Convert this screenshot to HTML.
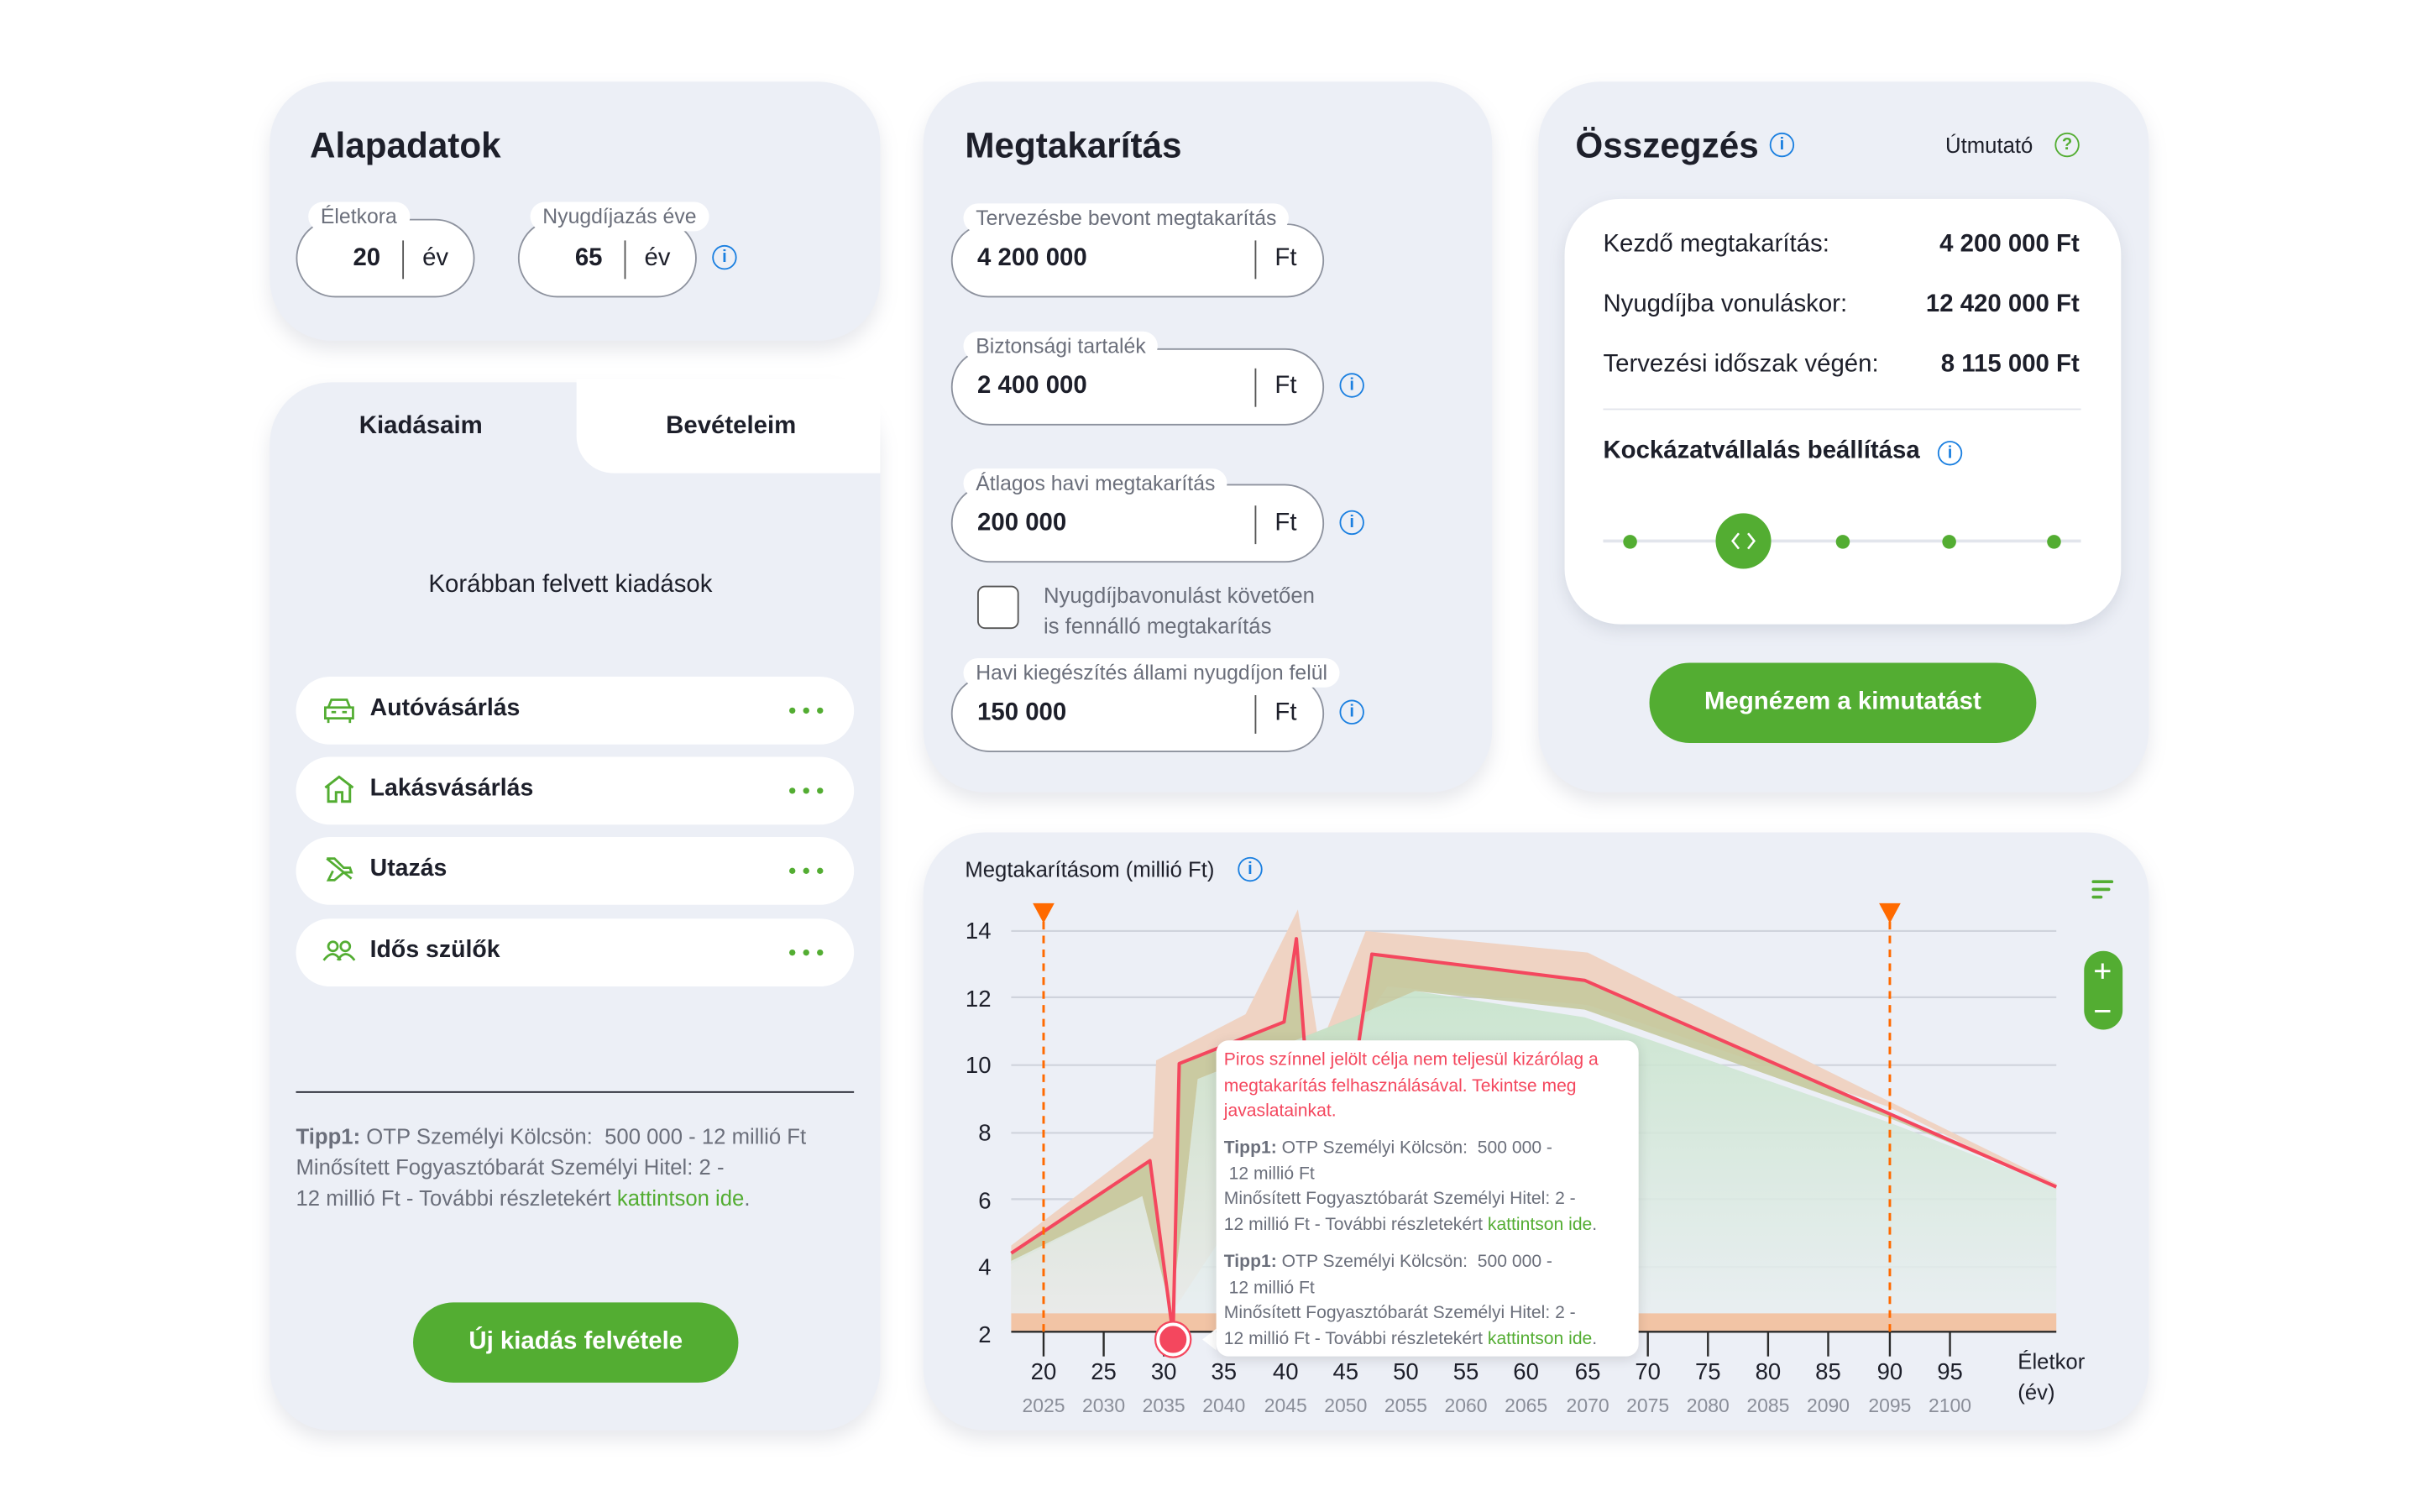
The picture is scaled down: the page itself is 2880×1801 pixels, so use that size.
<!DOCTYPE html>
<html><head><meta charset="utf-8">
<style>
html,body{margin:0;padding:0;background:#fff;width:2880px;height:1800px;overflow:hidden}
#w{position:absolute;left:0;top:0;width:1570px;height:981px;transform:scale(1.836);transform-origin:0 0;font-family:"Liberation Sans",sans-serif;color:#1d1f2a}
.card{position:absolute;background:#eceff6;border-radius:40px;box-shadow:0 6px 12px rgba(120,130,150,.18)}
.t{position:absolute;white-space:nowrap}
.h{font-weight:bold;font-size:23px}
.pill{position:absolute;background:#fff;border:1.3px solid #8d929e;border-radius:26px;box-sizing:border-box}
.lbl{position:absolute;background:#fff;border-radius:12px;padding:2px 8px;font-size:13.5px;color:#6b6f7b;white-space:nowrap}
.info{position:absolute;width:14px;height:14px;border:1.5px solid #1a7fe0;border-radius:50%;color:#1a7fe0;font-size:11px;font-weight:bold;text-align:center;line-height:14px;box-sizing:content-box}
.div{position:absolute;width:1.3px;background:#555}
.item{position:absolute;left:192px;width:362px;height:44px;background:#fff;border-radius:22px}
.item b{position:absolute;left:48px;top:12px;font-size:15.5px}
.dots{position:absolute;right:20px;top:20px;width:4px;height:4px;background:#53ad32;border-radius:50%;box-shadow:-9px 0 0 #53ad32,-18px 0 0 #53ad32}
.btn{position:absolute;background:#53ad32;color:#fff;font-weight:bold;border-radius:26px;text-align:center;font-size:16px}
.gray{color:#6b6f7b}
a{color:#53ad32}
</style></head><body><div id="w">

<!-- Alapadatok -->
<div class="card" style="left:175px;top:53px;width:396px;height:168px"></div>
<div class="t h" style="left:201px;top:81px">Alapadatok</div>
<div class="pill" style="left:192px;top:142px;width:116px;height:51px"></div>
<div class="lbl" style="left:200px;top:131px">Életkora</div>
<div class="t" style="left:229px;top:159px;font-weight:bold;font-size:16px">20</div>
<div class="div" style="left:261px;top:156px;height:25px"></div>
<div class="t" style="left:274px;top:159px;font-size:16px">év</div>
<div class="pill" style="left:336px;top:142px;width:116px;height:51px"></div>
<div class="lbl" style="left:344px;top:131px">Nyugdíjazás éve</div>
<div class="t" style="left:373px;top:159px;font-weight:bold;font-size:16px">65</div>
<div class="div" style="left:405px;top:156px;height:25px"></div>
<div class="t" style="left:418px;top:159px;font-size:16px">év</div>
<div class="info" style="left:462px;top:159px">i</div>

<!-- Kiadások -->
<div class="card" style="left:175px;top:248px;width:396px;height:680px"></div>
<div style="position:absolute;left:374px;top:246px;width:197px;height:61px;background:#fff;border-bottom-left-radius:24px"></div>
<div class="t" style="left:233px;top:268px;font-weight:bold;font-size:16px">Kiadásaim</div>
<div class="t" style="left:432px;top:268px;font-weight:bold;font-size:16px">Bevételeim</div>
<div class="t" style="left:278px;top:371px;font-size:16px">Korábban felvett kiadások</div>
<div class="item" style="top:439px"><svg style="position:absolute;left:17px;top:13px" width="22" height="18" viewBox="0 0 22 18" fill="none" stroke="#53ad32" stroke-width="1.5"><path d="M4 7 L6 2 H16 L18 7 M2 7 H20 V14 H2 Z M4 14 V17 M18 14 V17 M6 10 H9 M13 10 H16"/></svg><b>Autóvásárlás</b><span class="dots"></span></div>
<div class="item" style="top:491px"><svg style="position:absolute;left:17px;top:11px" width="22" height="20" viewBox="0 0 22 20" fill="none" stroke="#53ad32" stroke-width="1.6"><path d="M2 9 L11 2 L20 9 M4 8 V18 H9 V12 H13 V18 H18 V8"/></svg><b>Lakásvásárlás</b><span class="dots"></span></div>
<div class="item" style="top:543px"><svg style="position:absolute;left:17px;top:12px" width="22" height="18" viewBox="0 0 22 18" fill="none" stroke="#53ad32" stroke-width="1.5"><path d="M3 2 L19 15 M3 2 L8 2 L14 8 L18 8 L19 11 L14 11 L8 16 L4 16 L7 10"/></svg><b>Utazás</b><span class="dots"></span></div>
<div class="item" style="top:596px"><svg style="position:absolute;left:17px;top:13px" width="22" height="16" viewBox="0 0 22 16" fill="none" stroke="#53ad32" stroke-width="1.5"><circle cx="7" cy="5" r="3"/><circle cx="15" cy="5" r="3"/><path d="M1 14 Q7 6 12 14 M10 14 Q15 6 21 14"/></svg><b>Idős szülők</b><span class="dots"></span></div>
<div style="position:absolute;left:192px;top:708px;width:362px;height:1.3px;background:#1d1f2a"></div>
<div class="t gray" style="left:192px;top:727px;font-size:14px;line-height:20px">
<b>Tipp1:</b> OTP Személyi Kölcsön:&nbsp; 500 000 - 12 millió Ft<br>Minősített Fogyasztóbarát Személyi Hitel: 2 -<br>12 millió Ft - További részletekért <a>kattintson ide</a>.</div>
<div class="btn" style="left:268px;top:845px;width:211px;height:52px;line-height:52px">Új kiadás felvétele</div>

<!-- Megtakarítás -->
<div class="card" style="left:599px;top:53px;width:369px;height:461px"></div>
<div class="t h" style="left:626px;top:81px">Megtakarítás</div>
<div class="pill" style="left:617px;top:145px;width:242px;height:48px"></div>
<div class="lbl" style="left:625px;top:132px">Tervezésbe bevont megtakarítás</div>
<div class="t" style="left:634px;top:159px;font-weight:bold;font-size:16px">4 200 000</div>
<div class="div" style="left:814px;top:156px;height:25px"></div><div class="t" style="left:827px;top:159px;font-size:16px">Ft</div>
<div class="pill" style="left:617px;top:226px;width:242px;height:50px"></div>
<div class="lbl" style="left:625px;top:215px">Biztonsági tartalék</div>
<div class="t" style="left:634px;top:242px;font-weight:bold;font-size:16px">2 400 000</div>
<div class="div" style="left:814px;top:239px;height:25px"></div><div class="t" style="left:827px;top:242px;font-size:16px">Ft</div>
<div class="info" style="left:869px;top:242px">i</div>
<div class="pill" style="left:617px;top:314px;width:242px;height:51px"></div>
<div class="lbl" style="left:625px;top:304px">Átlagos havi megtakarítás</div>
<div class="t" style="left:634px;top:331px;font-weight:bold;font-size:16px">200 000</div>
<div class="div" style="left:814px;top:328px;height:25px"></div><div class="t" style="left:827px;top:331px;font-size:16px">Ft</div>
<div class="info" style="left:869px;top:331px">i</div>
<div style="position:absolute;left:634px;top:380px;width:25px;height:26px;border:1.3px solid #555;border-radius:5px;background:#fff"></div>
<div class="t gray" style="left:677px;top:376px;font-size:14px;line-height:20px">Nyugdíjbavonulást követően<br>is fennálló megtakarítás</div>
<div class="pill" style="left:617px;top:438px;width:242px;height:50px"></div>
<div class="lbl" style="left:625px;top:427px">Havi kiegészítés állami nyugdíjon felül</div>
<div class="t" style="left:634px;top:454px;font-weight:bold;font-size:16px">150 000</div>
<div class="div" style="left:814px;top:451px;height:25px"></div><div class="t" style="left:827px;top:454px;font-size:16px">Ft</div>
<div class="info" style="left:869px;top:454px">i</div>

<!-- Összegzés -->
<div class="card" style="left:998px;top:53px;width:396px;height:461px"></div>
<div class="t h" style="left:1022px;top:81px">Összegzés</div>
<div class="info" style="left:1148px;top:86px">i</div>
<div class="t" style="left:1262px;top:86px;font-size:14px">Útmutató</div>
<div class="info" style="left:1333px;top:86px;border-color:#53ad32;color:#53ad32">?</div>
<div style="position:absolute;left:1015px;top:129px;width:361px;height:276px;background:#fff;border-radius:36px;box-shadow:0 4px 10px rgba(120,130,150,.2)"></div>
<div class="t" style="left:1040px;top:150px;font-size:16px">Kezdő megtakarítás:</div>
<div class="t" style="right:221px;top:150px;font-size:16px;font-weight:bold">4 200 000 Ft</div>
<div class="t" style="left:1040px;top:189px;font-size:16px">Nyugdíjba vonuláskor:</div>
<div class="t" style="right:221px;top:189px;font-size:16px;font-weight:bold">12 420 000 Ft</div>
<div class="t" style="left:1040px;top:228px;font-size:16px">Tervezési időszak végén:</div>
<div class="t" style="right:221px;top:228px;font-size:16px;font-weight:bold">8 115 000 Ft</div>
<div style="position:absolute;left:1040px;top:265px;width:310px;height:1.3px;background:#e2e5ec"></div>
<div class="t" style="left:1040px;top:284px;font-size:16px;font-weight:bold">Kockázatvállalás beállítása</div>
<div class="info" style="left:1257px;top:286px">i</div>
<div style="position:absolute;left:1040px;top:350px;width:310px;height:2px;background:#e2e5ec"></div>
<div style="position:absolute;left:1053px;top:347px;width:9px;height:9px;border-radius:50%;background:#53ad32"></div>
<div style="position:absolute;left:1191px;top:347px;width:9px;height:9px;border-radius:50%;background:#53ad32"></div>
<div style="position:absolute;left:1260px;top:347px;width:9px;height:9px;border-radius:50%;background:#53ad32"></div>
<div style="position:absolute;left:1328px;top:347px;width:9px;height:9px;border-radius:50%;background:#53ad32"></div>
<div style="position:absolute;left:1113px;top:333px;width:36px;height:36px;border-radius:50%;background:#53ad32"></div>
<svg style="position:absolute;left:1113px;top:333px" width="36" height="36"><path d="M15 13 L11 18 L15 23 M21 13 L25 18 L21 23" fill="none" stroke="#fff" stroke-width="1.4"/></svg>
<div class="btn" style="left:1070px;top:430px;width:251px;height:52px;line-height:52px">Megnézem a kimutatást</div>

<!-- Chart card -->
<div class="card" style="left:599px;top:540px;width:795px;height:388px"></div>
<div class="t" style="left:626px;top:556px;font-size:14px">Megtakarításom (millió Ft)</div>
<div class="info" style="left:803px;top:556px">i</div>
<svg style="position:absolute;left:0;top:0" width="1552" height="970">
<defs>
<linearGradient id="gg" x1="0" y1="0" x2="0" y2="1"><stop offset="0" stop-color="#c5e3c8"/><stop offset="1" stop-color="#e8eef0"/></linearGradient>
</defs>
<g stroke="#cfd3dc" stroke-width="1.2">
<line x1="656" x2="1334" y1="604" y2="604"/><line x1="656" x2="1334" y1="647" y2="647"/><line x1="656" x2="1334" y1="691" y2="691"/><line x1="656" x2="1334" y1="735" y2="735"/><line x1="656" x2="1334" y1="778" y2="778"/><line x1="656" x2="1334" y1="822" y2="822"/>
</g>
<rect x="656" y="852" width="678" height="12" fill="#f2c4a5"/>
<polygon fill="#efd3c3" points="656,808 748,738 750,688 808,658 842,590 856,680 886,604 1030,618 1334,768 1334,772 1225,718 1030,652 900,640 760,852 656,852"/>
<polygon fill="#c5c99d" opacity=".9" points="656,813 746,753 761,866 765,690 833,663 841,609 848,700 878,700 890,619 1028,636 1334,770 1225,725 1028,655 918,643 878,660 777,700 760,852 741,776 656,820"/>
<polygon fill="url(#gg)" opacity=".85" points="656,818 741,776 760,852 777,700 878,660 918,643 1028,660 1225,728 1334,770 1334,852 656,852"/>
<polyline fill="none" stroke="#f4475e" stroke-width="2.2" stroke-linejoin="round" points="656,813 746,753 761,866 765,690 833,663 841,609 848,700 878,700 890,619 1028,636 1334,770"/>
<line x1="656" x2="1334" y1="864" y2="864" stroke="#2a2a2a" stroke-width="1.3"/>
<g stroke="#2a2a2a" stroke-width="1.3">
<line x1="677" x2="677" y1="864" y2="880"/><line x1="716" x2="716" y1="864" y2="880"/><line x1="755" x2="755" y1="864" y2="880"/><line x1="1069" x2="1069" y1="864" y2="880"/><line x1="1108" x2="1108" y1="864" y2="880"/><line x1="1147" x2="1147" y1="864" y2="880"/><line x1="1186" x2="1186" y1="864" y2="880"/><line x1="1226" x2="1226" y1="864" y2="880"/><line x1="1265" x2="1265" y1="864" y2="880"/>
</g>
<g stroke="#ff6a00" stroke-width="1.6" stroke-dasharray="5,4"><line x1="677" x2="677" y1="598" y2="864"/><line x1="1226" x2="1226" y1="598" y2="864"/></g>
<polygon fill="#ff6a00" points="670,586 684,586 677,599"/><polygon fill="#ff6a00" points="1219,586 1233,586 1226,599"/>
<circle cx="761" cy="869" r="10" fill="#f4475e" stroke="#fff" stroke-width="2.5"/><circle cx="761" cy="869" r="11.5" fill="none" stroke="#f4475e" stroke-width="1.2"/>
<g font-family="Liberation Sans,sans-serif" font-size="15" fill="#1d1f2a" text-anchor="end">
<text x="643" y="609">14</text><text x="643" y="653">12</text><text x="643" y="696">10</text><text x="643" y="740">8</text><text x="643" y="784">6</text><text x="643" y="827">4</text><text x="643" y="871">2</text>
</g>
<g font-family="Liberation Sans,sans-serif" font-size="15" fill="#1d1f2a" text-anchor="middle">
<text x="677" y="895">20</text><text x="716" y="895">25</text><text x="755" y="895">30</text><text x="794" y="895">35</text><text x="834" y="895">40</text><text x="873" y="895">45</text><text x="912" y="895">50</text><text x="951" y="895">55</text><text x="990" y="895">60</text><text x="1030" y="895">65</text><text x="1069" y="895">70</text><text x="1108" y="895">75</text><text x="1147" y="895">80</text><text x="1186" y="895">85</text><text x="1226" y="895">90</text><text x="1265" y="895">95</text>
</g>
<g font-family="Liberation Sans,sans-serif" font-size="12.5" fill="#8a8e99" text-anchor="middle">
<text x="677" y="916">2025</text><text x="716" y="916">2030</text><text x="755" y="916">2035</text><text x="794" y="916">2040</text><text x="834" y="916">2045</text><text x="873" y="916">2050</text><text x="912" y="916">2055</text><text x="951" y="916">2060</text><text x="990" y="916">2065</text><text x="1030" y="916">2070</text><text x="1069" y="916">2075</text><text x="1108" y="916">2080</text><text x="1147" y="916">2085</text><text x="1186" y="916">2090</text><text x="1226" y="916">2095</text><text x="1265" y="916">2100</text>
</g>
<text x="1309" y="888" font-family="Liberation Sans,sans-serif" font-size="14" fill="#1d1f2a">Életkor</text>
<text x="1309" y="908" font-family="Liberation Sans,sans-serif" font-size="14" fill="#1d1f2a">(év)</text>
<g stroke="#53ad32" stroke-width="2" stroke-linecap="round"><line x1="1358" x2="1370" y1="572" y2="572"/><line x1="1358" x2="1368" y1="577" y2="577"/><line x1="1358" x2="1363" y1="582" y2="582"/></g>
<rect x="1352" y="617" width="25" height="51" rx="12.5" fill="#53ad32"/>
<g stroke="#fff" stroke-width="1.6"><line x1="1359" x2="1369" y1="630" y2="630"/><line x1="1364" x2="1364" y1="625" y2="635"/><line x1="1359" x2="1369" y1="656" y2="656"/></g>
<polygon points="789,862 780,869 789,876" fill="#fff"/>
</svg>
<div style="position:absolute;left:789px;top:675px;width:274px;height:205px;background:#fff;border-radius:8px;box-shadow:0 2px 8px rgba(0,0,0,.12)"></div>
<div class="t" style="left:794px;top:680px;font-size:11.5px;line-height:16.5px;color:#f4475e">Piros színnel jelölt célja nem teljesül kizárólag a<br>megtakarítás felhasználásával. Tekintse meg<br>javaslatainkat.</div>
<div class="t gray" style="left:794px;top:737px;font-size:11.5px;line-height:16.5px"><b>Tipp1:</b> OTP Személyi Kölcsön:&nbsp; 500 000 -<br>&nbsp;12 millió Ft<br>Minősített Fogyasztóbarát Személyi Hitel: 2 -<br>12 millió Ft - További részletekért <a>kattintson ide</a>.</div>
<div class="t gray" style="left:794px;top:811px;font-size:11.5px;line-height:16.5px"><b>Tipp1:</b> OTP Személyi Kölcsön:&nbsp; 500 000 -<br>&nbsp;12 millió Ft<br>Minősített Fogyasztóbarát Személyi Hitel: 2 -<br>12 millió Ft - További részletekért <a>kattintson ide</a>.</div>

</div></body></html>
